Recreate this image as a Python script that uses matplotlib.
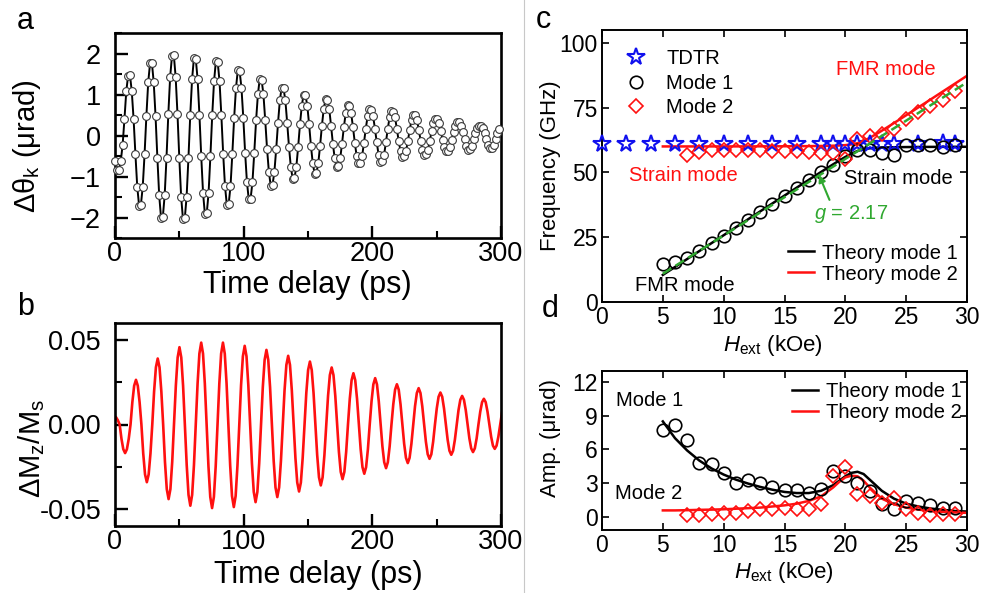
import numpy as np
import matplotlib
matplotlib.use("Agg")
import matplotlib.pyplot as plt
from matplotlib.lines import Line2D
from matplotlib.ticker import MultipleLocator, FormatStrFormatter

plt.rcParams["font.family"] = ["Liberation Sans", "DejaVu Sans"]
plt.rcParams["mathtext.fontset"] = "custom"
plt.rcParams["mathtext.rm"] = "Liberation Sans"
plt.rcParams["mathtext.it"] = "Liberation Sans:italic"
plt.rcParams["mathtext.bf"] = "Liberation Sans:bold"

# ---------------- (a) Kerr rotation vs time delay ----------------
t_kerr = 0.24 + 1.421 * np.arange(211)
theta_k = [
    -0.62, -0.85, -0.83, -0.62, -0.23, 0.40, 1.08, 1.46, 1.48, 1.08, 0.40, -0.46,
    -1.25, -1.71, -1.69, -1.25, -0.46, 0.48, 1.30, 1.76, 1.78, 1.30, 0.48, -0.54,
    -1.46, -2.00, -1.98, -1.46, -0.54, 0.53, 1.43, 1.94, 1.96, 1.43, 0.53, -0.55,
    -1.49, -2.04, -2.02, -1.49, -0.55, 0.51, 1.38, 1.89, 1.87, 1.38, 0.51, -0.51,
    -1.41, -1.92, -1.90, -1.41, -0.51, 0.49, 1.32, 1.81, 1.79, 1.32, 0.49, -0.45,
    -1.24, -1.69, -1.67, -1.24, -0.45, 0.43, 1.16, 1.59, 1.57, 1.16, 0.43, -0.42,
    -1.14, -1.56, -1.54, -1.14, -0.42, 0.37, 1.01, 1.38, 1.36, 1.01, 0.37, -0.33,
    -0.89, -1.22, -1.20, -0.89, -0.33, 0.31, 0.86, 1.17, 1.15, 0.86, 0.31, -0.28,
    -0.77, -1.05, -1.03, -0.77, -0.28, 0.27, 0.73, 1.00, 0.98, 0.73, 0.27, -0.25,
    -0.68, -0.93, -0.91, -0.68, -0.25, 0.24, 0.65, 0.89, 0.87, 0.65, 0.24, -0.20,
    -0.56, -0.76, -0.74, -0.56, -0.20, 0.20, 0.54, 0.74, 0.72, 0.54, 0.20, -0.18,
    -0.50, -0.68, -0.66, -0.50, -0.18, 0.17, 0.47, 0.64, 0.62, 0.47, 0.17, -0.17,
    -0.47, -0.64, -0.62, -0.47, -0.17, 0.16, 0.44, 0.60, 0.58, 0.44, 0.16, -0.14,
    -0.38, -0.52, -0.50, -0.38, -0.14, 0.14, 0.37, 0.51, 0.49, 0.37, 0.14, -0.13,
    -0.35, -0.48, -0.46, -0.35, -0.13, 0.11, 0.30, 0.41, 0.40, 0.30, 0.11, -0.10,
    -0.29, -0.39, -0.38, -0.29, -0.10, 0.09, 0.24, 0.33, 0.32, 0.24, 0.09, -0.09,
    -0.26, -0.35, -0.34, -0.26, -0.09, 0.06, 0.18, 0.24, 0.23, 0.18, 0.06, -0.08,
    -0.23, -0.31, -0.30, -0.23, -0.08, 0.05, 0.15,
]

# ---------------- (b) simulated magnetization ----------------
t_sim = -0.6 + 1.4083 * np.arange(215)
dmz = [
    0.0050, 0.0043, 0.0025, 0.0, -0.0085, -0.0146, -0.0169, -0.0146, -0.0085, 0.0, 0.0132, 0.0229,
    0.0264, 0.0229, 0.0132, 0.0, -0.0171, -0.0295, -0.0341, -0.0295, -0.0171, 0.0, 0.0195, 0.0338,
    0.0390, 0.0338, 0.0195, 0.0, -0.0221, -0.0382, -0.0441, -0.0382, -0.0221, 0.0, 0.0229, 0.0396,
    0.0457, 0.0396, 0.0229, 0.0, -0.0240, -0.0416, -0.0480, -0.0416, -0.0240, 0.0, 0.0242, 0.0419,
    0.0484, 0.0419, 0.0242, 0.0, -0.0247, -0.0428, -0.0494, -0.0428, -0.0247, 0.0, 0.0242, 0.0419,
    0.0484, 0.0419, 0.0242, 0.0, -0.0244, -0.0423, -0.0488, -0.0423, -0.0244, 0.0, 0.0233, 0.0403,
    0.0465, 0.0403, 0.0233, 0.0, -0.0230, -0.0398, -0.0459, -0.0398, -0.0230, 0.0, 0.0221, 0.0382,
    0.0441, 0.0382, 0.0221, 0.0, -0.0215, -0.0372, -0.0429, -0.0372, -0.0215, 0.0, 0.0203, 0.0352,
    0.0406, 0.0352, 0.0203, 0.0, -0.0198, -0.0343, -0.0396, -0.0343, -0.0198, 0.0, 0.0186, 0.0322,
    0.0372, 0.0322, 0.0186, 0.0, -0.0180, -0.0312, -0.0360, -0.0312, -0.0180, 0.0, 0.0169, 0.0292,
    0.0337, 0.0292, 0.0169, 0.0, -0.0162, -0.0280, -0.0323, -0.0280, -0.0162, 0.0, 0.0152, 0.0262,
    0.0303, 0.0262, 0.0152, 0.0, -0.0146, -0.0252, -0.0291, -0.0252, -0.0146, 0.0, 0.0137, 0.0237,
    0.0274, 0.0237, 0.0137, 0.0, -0.0129, -0.0223, -0.0258, -0.0223, -0.0129, 0.0, 0.0119, 0.0206,
    0.0238, 0.0206, 0.0119, 0.0, -0.0114, -0.0197, -0.0228, -0.0197, -0.0114, 0.0, 0.0108, 0.0186,
    0.0215, 0.0186, 0.0108, 0.0, -0.0102, -0.0176, -0.0203, -0.0176, -0.0102, 0.0, 0.0095, 0.0164,
    0.0189, 0.0164, 0.0095, 0.0, -0.0090, -0.0155, -0.0179, -0.0155, -0.0090, 0.0, 0.0085, 0.0146,
    0.0169, 0.0146, 0.0085, 0.0, -0.0082, -0.0141, -0.0163, -0.0141, -0.0082, 0.0, 0.0076, 0.0132,
    0.0152, 0.0132, 0.0076, 0.0, -0.0072, -0.0125, -0.0144, -0.0125, -0.0072, 0.0, 0.0070,
]

# ---------------- (c) mode frequencies vs field ----------------
h_tdtr = [0, 2, 4, 6, 8, 10, 12, 14, 16, 18, 19, 20, 21, 22, 23, 24, 26, 28, 29]
f_tdtr = [61, 61, 61, 61, 61, 61, 61, 61, 61, 61, 61, 61, 61, 61, 61, 61, 61, 61.5, 61]

h_mode1 = list(range(5, 30))
f_mode1 = [14.8, 15.4, 17.1, 19.7, 22.8, 25.5, 28.6, 31.5, 34.7, 38.0, 40.8, 44.0, 47.0,
           50.2, 53.0, 56.2, 58.6, 58.6, 57.5, 56.6, 60.5, 60.5, 60.5, 59.8, 60.5]

h_mode2 = list(range(7, 30))
f_mode2 = [56.6, 57.9, 58.6, 58.6, 58.8, 58.8, 58.6, 58.3, 58.3, 58.3, 57.9, 57.5, 57.5,
           55.3, 63.1, 64.0, 65.0, 66.9, 70.8, 73.4, 75.5, 78.1, 81.5]

h_theory = [5, 6, 7, 8, 9, 10, 11, 12, 13, 14, 15, 16, 17, 18, 19, 19.5, 20, 20.5, 21,
            21.5, 22, 22.5, 23, 24, 25, 26, 27, 28, 29, 30]
f_theory1 = [10.45, 13.52, 16.59, 19.66, 22.72, 25.78, 28.85, 31.91, 34.97, 38.03, 41.08,
             44.13, 47.16, 50.18, 53.15, 54.60, 55.99, 57.26, 58.30, 58.97, 59.33, 59.52,
             59.63, 59.75, 59.81, 59.85, 59.88, 59.89, 59.91, 59.92]
f_theory2 = [60.05, 60.05, 60.05, 60.06, 60.06, 60.07, 60.07, 60.08, 60.09, 60.10, 60.12,
             60.14, 60.18, 60.23, 60.33, 60.42, 60.56, 60.82, 61.32, 62.18, 63.36, 64.70,
             66.13, 69.08, 72.09, 75.12, 78.16, 81.22, 84.27, 87.33]

h_gfit = [5, 29.7]
f_gfit = [10.9, 83.9]

# ---------------- (d) mode amplitudes vs field ----------------
h_amp1 = list(range(5, 30))
amp1 = [7.7, 8.2, 6.8, 4.8, 4.7, 3.9, 3.0, 3.3, 3.0, 2.6, 2.4, 2.4, 2.1, 2.5, 4.1, 3.6,
        3.0, 2.3, 1.1, 0.65, 1.4, 1.2, 1.0, 0.8, 0.75]
h_amp2 = list(range(7, 30))
amp2 = [0.1, 0.1, 0.2, 0.3, 0.3, 0.5, 0.65, 0.65, 0.8, 0.65, 0.65, 1.1, 3.6, 4.4, 2.0,
        1.8, 1.2, 1.7, 0.65, 0.35, 0.1, 0.2, 0.2]
amp_theory1 = [8.5, 7.0, 5.9, 5.0, 4.3, 3.75, 3.3, 2.95, 2.65, 2.4, 2.2, 2.1, 2.1, 2.3,
               2.8, 3.2, 3.6, 3.9, 4.0, 3.8, 3.3, 2.8, 2.3, 1.6, 1.15, 0.9, 0.72, 0.6,
               0.5, 0.45]
amp_theory2 = [0.55, 0.55, 0.57, 0.6, 0.62, 0.65, 0.7, 0.75, 0.8, 0.9, 1.0, 1.15, 1.4,
               1.8, 2.6, 3.1, 3.5, 3.65, 3.6, 3.2, 2.6, 2.1, 1.6, 1.1, 0.8, 0.62, 0.5,
               0.42, 0.37, 0.33]

RED = "#ff1010"
BLUE = "#1010ee"
GREEN = "#30a830"

fig = plt.figure(figsize=(9.82, 5.93), dpi=100)
W, H = 982.0, 593.0


def box(l, t, r, b):
    return [l / W, 1 - b / H, (r - l) / W, (b - t) / H]


ax_a = fig.add_axes(box(115, 33, 501, 238))
ax_b = fig.add_axes(box(115, 323, 501, 526))
ax_c = fig.add_axes(box(602, 30, 967, 302))
ax_d = fig.add_axes(box(602, 371, 967, 530))


def style_left(ax):
    for s in ax.spines.values():
        s.set_linewidth(1.9)
    ax.tick_params(which="both", direction="in", top=False, right=False,
                   labelsize=19.5)
    ax.tick_params(which="major", length=9, width=1.7)
    ax.tick_params(which="minor", length=5, width=1.5)
    ax.tick_params(axis="y", pad=10)
    ax.tick_params(axis="x", pad=2)
    ax.set_xlim(0, 300)
    ax.xaxis.set_major_locator(MultipleLocator(100))
    ax.xaxis.set_minor_locator(MultipleLocator(50))


def style_right(ax):
    for s in ax.spines.values():
        s.set_linewidth(1.4)
    ax.tick_params(which="both", direction="in", top=True, right=True,
                   labelsize=16.5)
    ax.tick_params(which="major", length=5, width=1.2)
    ax.tick_params(which="minor", length=3, width=1.0)
    ax.tick_params(axis="y", pad=3)
    ax.tick_params(axis="x", pad=3)
    ax.set_xlim(0, 30)
    ax.xaxis.set_major_locator(MultipleLocator(5))


# (a)
style_left(ax_a)
ax_a.plot(t_kerr, theta_k, "-", color="black", lw=1.4, marker="o", ms=5.6,
          mfc="white", mec="#3a3a3a", mew=0.8, clip_on=False, zorder=3)
ax_a.set_ylim(-2.5, 2.5)
ax_a.yaxis.set_major_locator(MultipleLocator(1))
ax_a.yaxis.set_minor_locator(MultipleLocator(0.5))
ax_a.set_xlabel("Time delay (ps)", fontsize=22, va="center")
ax_a.xaxis.set_label_coords(0.497, -0.23)
ax_a.set_ylabel("Δθ$_{\\rm k}$ (μrad)", fontsize=21, va="center")
ax_a.yaxis.set_label_coords(-0.228, 0.45)

# (b)
style_left(ax_b)
ax_b.plot(t_sim, dmz, "-", color=RED, lw=1.9)
ax_b.set_ylim(-0.06, 0.06)
ax_b.yaxis.set_major_locator(MultipleLocator(0.05))
ax_b.yaxis.set_minor_locator(MultipleLocator(0.025))
ax_b.yaxis.set_major_formatter(FormatStrFormatter("%.2f"))
ax_b.set_xlabel("Time delay (ps)", fontsize=22, va="center")
ax_b.xaxis.set_label_coords(0.528, -0.24)
ax_b.set_ylabel("ΔM$_{\\rm z}$/M$_{\\rm s}$", fontsize=21, va="center")
ax_b.yaxis.set_label_coords(-0.215, 0.38)

# (c)
style_right(ax_c)
ax_c.set_ylim(0, 105)
ax_c.yaxis.set_major_locator(MultipleLocator(25))
ax_c.plot(h_gfit, f_gfit, "--", color=GREEN, lw=1.8, dashes=(4, 2), zorder=4)
l_th1, = ax_c.plot(h_theory, f_theory1, "-", color="black", lw=1.8, zorder=2)
l_th2, = ax_c.plot(h_theory, f_theory2, "-", color=RED, lw=1.8, zorder=2)
s_tdtr, = ax_c.plot(h_tdtr, f_tdtr, "*", ls="none", ms=13, mfc="none", mec=BLUE,
                    mew=1.5, clip_on=False, zorder=3)
s_m1, = ax_c.plot(h_mode1, f_mode1, "o", ls="none", ms=9, mfc="none", mec="black",
                  mew=1.2, zorder=3)
s_m2, = ax_c.plot(h_mode2, f_mode2, "D", ls="none", ms=7, mfc="none", mec=RED,
                  mew=1.2, zorder=3)
leg1 = ax_c.legend([s_tdtr, s_m1, s_m2], ["TDTR", "Mode 1", "Mode 2"],
                   loc="upper left", bbox_to_anchor=(0.06, 0.93), frameon=False,
                   fontsize=14.5, handlelength=1.2, handletextpad=0.9,
                   labelspacing=0.28, borderpad=0, borderaxespad=0)
ax_c.add_artist(leg1)
ax_c.legend([l_th1, l_th2], ["Theory mode 1", "Theory mode 2"], loc="upper left",
            bbox_to_anchor=(0.51, 0.215), frameon=False, fontsize=14.5,
            handlelength=1.3, handletextpad=0.4, labelspacing=0.1, borderpad=0,
            borderaxespad=0)
ax_c.text(23.3, 89.8, "FMR mode", color=RED, fontsize=14.5, ha="center", va="center")
ax_c.text(6.7, 48.9, "Strain mode", color=RED, fontsize=14.5, ha="center", va="center")
ax_c.text(24.4, 47.6, "Strain mode", color="black", fontsize=14.5, ha="center",
          va="center")
ax_c.text(6.8, 6.4, "FMR mode", color="black", fontsize=14.5, ha="center", va="center")
ax_c.annotate("$g$ = 2.17", xy=(17.8, 49.5), xytext=(20.5, 34.1), color=GREEN,
              fontsize=14.5, ha="center", va="center",
              arrowprops=dict(arrowstyle="-|>", color=GREEN, lw=1.5, shrinkA=0,
                              shrinkB=1, relpos=(0.22, 1.0), mutation_scale=10))
ax_c.set_xlabel("$H_{\\rm ext}$ (kOe)", fontsize=16, va="center")
ax_c.xaxis.set_label_coords(0.468, -0.16)
ax_c.set_ylabel("Frequency (GHz)", fontsize=16, va="center")
ax_c.yaxis.set_label_coords(-0.142, 0.5)

# (d)
style_right(ax_d)
ax_d.set_ylim(-1.2, 13)
ax_d.yaxis.set_major_locator(MultipleLocator(3))
l_a1, = ax_d.plot(h_theory, amp_theory1, "-", color="black", lw=1.8, zorder=2)
l_a2, = ax_d.plot(h_theory, amp_theory2, "-", color=RED, lw=1.8, zorder=2)
ax_d.plot(h_amp1, amp1, "o", ls="none", ms=9, mfc="none", mec="black", mew=1.2,
          zorder=3)
ax_d.plot(h_amp2, amp2, "D", ls="none", ms=7, mfc="none", mec=RED, mew=1.2, zorder=3)
ax_d.legend([l_a1, l_a2], ["Theory mode 1", "Theory mode 2"], loc="upper left",
            bbox_to_anchor=(0.52, 0.93), frameon=False, fontsize=14.5,
            handlelength=1.3, handletextpad=0.4, labelspacing=0.1, borderpad=0,
            borderaxespad=0)
ax_d.text(3.9, 10.4, "Mode 1", fontsize=14.5, ha="center", va="center")
ax_d.text(3.8, 2.1, "Mode 2", fontsize=14.5, ha="center", va="center")
ax_d.set_xlabel("$H_{\\rm ext}$ (kOe)", fontsize=16, va="center")
ax_d.xaxis.set_label_coords(0.499, -0.27)
ax_d.set_ylabel("Amp. (μrad)", fontsize=16, va="center")
ax_d.yaxis.set_label_coords(-0.142, 0.58)

# panel letters
fig.text(17 / W, 1 - 29 / H, "a", fontsize=22, va="baseline")
fig.text(17 / W, 1 - 315 / H, "b", fontsize=22, va="baseline")
fig.text(536 / W, 1 - 28 / H, "c", fontsize=22, va="baseline")
fig.text(542 / W, 1 - 317 / H, "d", fontsize=22, va="baseline")

# divider between the two columns
fig.add_artist(Line2D([524 / W, 524 / W], [0, 1], color="#c8c8c8", lw=0.8,
                      transform=fig.transFigure))

fig.savefig("out.png", dpi=100)
